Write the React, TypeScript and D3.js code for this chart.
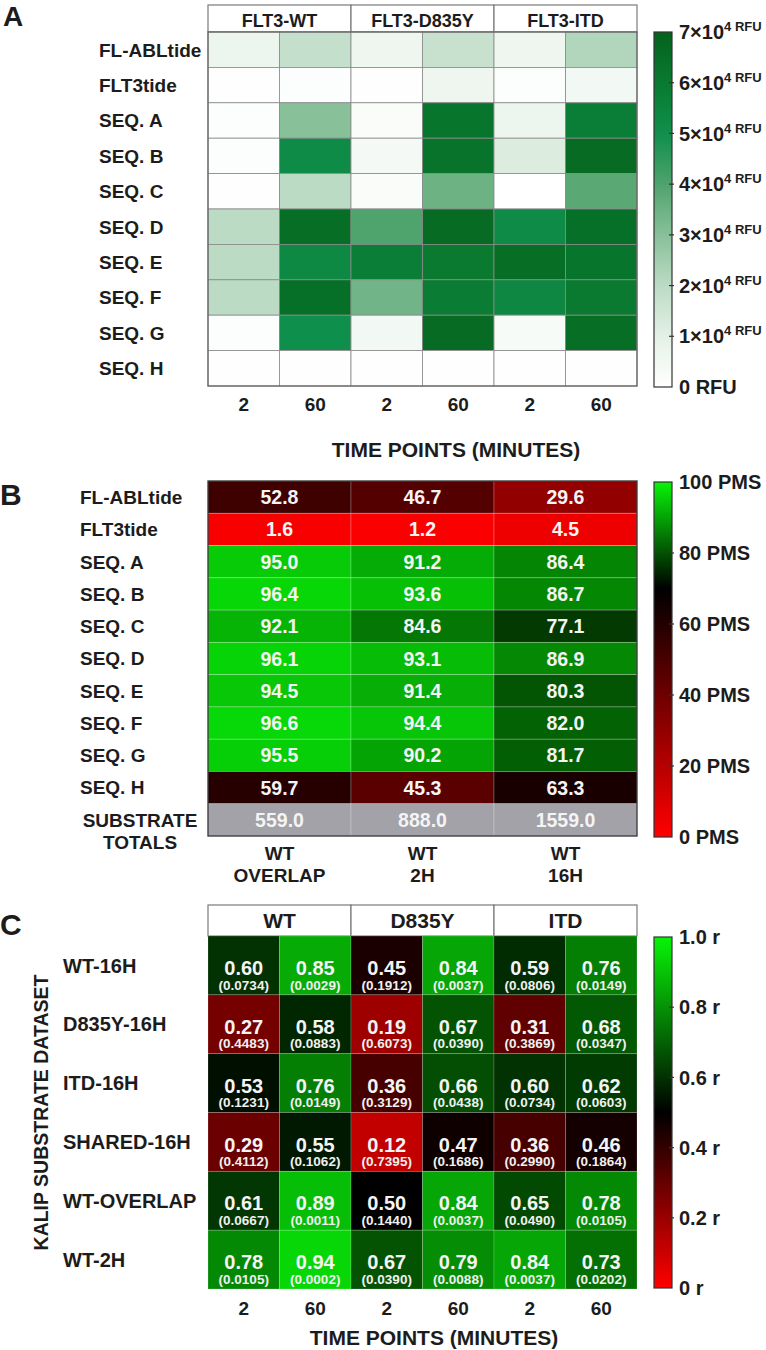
import React from "react"
import * as d3 from "d3"

const FONT = "'Liberation Sans', Arial, Helvetica, sans-serif"
const TEXT = "#1c1c1c"

// ---- panel A : raw fluorescence ----
const substrates = [
	"FL-ABLtide",
	"FLT3tide",
	"SEQ. A",
	"SEQ. B",
	"SEQ. C",
	"SEQ. D",
	"SEQ. E",
	"SEQ. F",
	"SEQ. G",
	"SEQ. H",
]
const kinasesA = ["FLT3-WT", "FLT3-D835Y", "FLT3-ITD"]
const timePoints = ["2", "60"]
// RFU, columns: WT 2, WT 60, D835Y 2, D835Y 60, ITD 2, ITD 60
const rfuValues = [
	[7000, 18000, 6000, 17000, 6000, 22000],
	[500, 1000, 500, 6000, 1000, 5000],
	[1000, 30000, 2000, 62000, 7000, 58000],
	[1000, 52000, 4000, 63000, 12000, 66000],
	[500, 20000, 2000, 35000, 0, 38000],
	[20000, 65000, 40000, 66000, 52000, 64000],
	[20000, 53000, 58000, 60000, 65000, 62000],
	[20000, 64000, 34000, 59000, 54000, 60000],
	[1000, 50000, 5000, 66000, 3000, 65000],
	[500, 500, 500, 500, 500, 500],
]
const rfuTicks = [0, 10000, 20000, 30000, 40000, 50000, 60000, 70000]
const rfuColors = ["#ffffff", "#e4f0e6", "#bcdbc4", "#88c09a", "#4fa36c", "#0f8f4c", "#097a30", "#05611c"]

// ---- panel B : PMS ----
const datasetsB = ["WT|OVERLAP", "WT|2H", "WT|16H"]
const pmsValues = [
	[52.8, 46.7, 29.6],
	[1.6, 1.2, 4.5],
	[95.0, 91.2, 86.4],
	[96.4, 93.6, 86.7],
	[92.1, 84.6, 77.1],
	[96.1, 93.1, 86.9],
	[94.5, 91.4, 80.3],
	[96.6, 94.4, 82.0],
	[95.5, 90.2, 81.7],
	[59.7, 45.3, 63.3],
]
const substrateTotals = [559.0, 888.0, 1559.0]
const pmsTicks = [0, 20, 40, 60, 80, 100]

// ---- panel C : correlation ----
const kinasesC = ["WT", "D835Y", "ITD"]
const datasetsC = ["WT-16H", "D835Y-16H", "ITD-16H", "SHARED-16H", "WT-OVERLAP", "WT-2H"]
const rValues = [
	[0.6, 0.85, 0.45, 0.84, 0.59, 0.76],
	[0.27, 0.58, 0.19, 0.67, 0.31, 0.68],
	[0.53, 0.76, 0.36, 0.66, 0.6, 0.62],
	[0.29, 0.55, 0.12, 0.47, 0.36, 0.46],
	[0.61, 0.89, 0.5, 0.84, 0.65, 0.78],
	[0.78, 0.94, 0.67, 0.79, 0.84, 0.73],
]
const pValues = [
	["0.0734", "0.0029", "0.1912", "0.0037", "0.0806", "0.0149"],
	["0.4483", "0.0883", "0.6073", "0.0390", "0.3869", "0.0347"],
	["0.1231", "0.0149", "0.3129", "0.0438", "0.0734", "0.0603"],
	["0.4112", "0.1062", "0.7395", "0.1686", "0.2990", "0.1864"],
	["0.0667", "0.0011", "0.1440", "0.0037", "0.0490", "0.0105"],
	["0.0105", "0.0002", "0.0390", "0.0088", "0.0037", "0.0202"],
]
const rTicks = [0, 0.2, 0.4, 0.6, 0.8, 1.0]

// layout
const GX0 = 208
const GX1 = 637
const CB_X = 654
const CB_W = 18

const colA = d3.scaleBand<number>().domain(d3.range(6)).range([GX0, GX1])
const kinA = d3.scaleBand<number>().domain(d3.range(3)).range([GX0, GX1])
const rowA = d3.scaleBand<number>().domain(d3.range(substrates.length)).range([32, 386])
const rowB = d3.scaleBand<number>().domain(d3.range(substrates.length + 1)).range([481, 836])
const rowC = d3.scaleBand<number>().domain(d3.range(datasetsC.length)).range([936, 1289])

const colorA = d3.scaleLinear<string>().domain(rfuTicks).range(rfuColors).interpolate(d3.interpolateRgb)
const colorB = d3.scaleLinear<string>().domain([0, 70, 100]).range(["#ff0000", "#000000", "#08f408"])
const colorC = d3.scaleLinear<string>().domain([0, 0.5, 1]).range(["#ff0000", "#000000", "#08f408"])

const cbA = d3.scaleLinear().domain([0, 70000]).range([387, 32])
const cbB = d3.scaleLinear().domain([0, 100]).range([837, 482])
const cbC = d3.scaleLinear().domain([0, 1]).range([1288, 937])

function ColorBar({ id, scale, color, ticks, label }) {
	const [d0, d1] = scale.domain()
	const [y0, y1] = scale.range()
	const stops = d3.range(0, 1.0001, 0.05)
	return (
		<g>
			<defs>
				<linearGradient id={id} x1="0" y1="1" x2="0" y2="0">
					{stops.map((t) => (
						<stop key={t} offset={t} stopColor={color(d0 + t * (d1 - d0))} />
					))}
				</linearGradient>
			</defs>
			<rect x={CB_X} y={y1} width={CB_W} height={y0 - y1} fill={`url(#${id})`} stroke="#333" strokeWidth={1.2} />
			{ticks.map((v, i) => (
				<g key={v}>
					{i > 0 && i < ticks.length - 1 && (
						<line x1={CB_X + CB_W - 3} x2={CB_X + CB_W + 2} y1={scale(v)} y2={scale(v)} stroke="#333" strokeWidth={1.2} />
					)}
					<text x={CB_X + 25} y={scale(v)} dy="0.36em" fontSize={20} fontWeight="bold" fill={TEXT}>
						{label(v)}
					</text>
				</g>
			))}
		</g>
	)
}

function rfuLabel(v) {
	if (v === 0) return "0 RFU"
	return (
		<>
			{`${v / 10000}×10`}
			<tspan dy={-8} fontSize={13}>4 RFU</tspan>
		</>
	)
}

function PanelA() {
	return (
		<g>
			<text x={3} y={26} fontSize={28} fontWeight="bold" fill={TEXT}>A</text>
			{kinasesA.map((k, i) => (
				<g key={k}>
					<rect x={kinA(i)} y={5} width={kinA.bandwidth()} height={27} fill="#fff" stroke="#7a7a7a" strokeWidth={1.2} />
					<text x={kinA(i) + kinA.bandwidth() / 2} y={27} textAnchor="middle" fontSize={18} fontWeight="bold" fill={TEXT}>
						{k}
					</text>
				</g>
			))}
			{rfuValues.map((row, r) =>
				row.map((v, c) => (
					<rect
						key={`${r}-${c}`}
						x={colA(c)}
						y={rowA(r)}
						width={colA.bandwidth()}
						height={rowA.bandwidth()}
						fill={colorA(v)}
						stroke="#8a8a8a"
						strokeWidth={0.8}
					/>
				)),
			)}
			<rect x={GX0} y={32} width={GX1 - GX0} height={386 - 32} fill="none" stroke="#666" strokeWidth={1.3} />
			{substrates.map((s, r) => (
				<text key={s} x={99} y={rowA(r) + rowA.bandwidth() / 2} dy="0.36em" fontSize={19} fontWeight="bold" fill={TEXT}>
					{s}
				</text>
			))}
			{d3.range(6).map((c) => (
				<text key={c} x={colA(c) + colA.bandwidth() / 2} y={411} textAnchor="middle" fontSize={19} fontWeight="bold" fill={TEXT}>
					{timePoints[c % 2]}
				</text>
			))}
			<text x={456} y={457} textAnchor="middle" fontSize={21} fontWeight="bold" fill={TEXT}>
				TIME POINTS (MINUTES)
			</text>
			<ColorBar id="cbA" scale={cbA} color={colorA} ticks={rfuTicks} label={rfuLabel} />
		</g>
	)
}

function PanelB() {
	const rows = [...pmsValues, substrateTotals]
	return (
		<g>
			<text x={0} y={505} fontSize={30} fontWeight="bold" fill={TEXT}>B</text>
			{rows.map((row, r) =>
				row.map((v, c) => {
					const isTotal = r === pmsValues.length
					return (
						<g key={`${r}-${c}`}>
							<rect
								x={kinA(c)}
								y={rowB(r)}
								width={kinA.bandwidth()}
								height={rowB.bandwidth()}
								fill={isTotal ? "#a2a2a8" : colorB(v)}
								stroke="rgba(255,255,255,0.28)"
								strokeWidth={0.8}
							/>
							<text
								x={kinA(c) + kinA.bandwidth() / 2}
								y={rowB(r) + rowB.bandwidth() / 2}
								dy="0.36em"
								textAnchor="middle"
								fontSize={19.5}
								fontWeight="bold"
								fill="#f4f4f4"
							>
								{d3.format(".1f")(v)}
							</text>
						</g>
					)
				}),
			)}
			<rect x={GX0} y={481} width={GX1 - GX0} height={836 - 481} fill="none" stroke="#333" strokeWidth={1.3} />
			{substrates.map((s, r) => (
				<text key={s} x={80} y={rowB(r) + rowB.bandwidth() / 2} dy="0.36em" fontSize={19} fontWeight="bold" fill={TEXT}>
					{s}
				</text>
			))}
			<text x={140} y={rowB(10) + rowB.bandwidth() / 2} dy="0.36em" textAnchor="middle" fontSize={19} fontWeight="bold" fill={TEXT}>
				SUBSTRATE
			</text>
			<text x={140} y={849} textAnchor="middle" fontSize={19} fontWeight="bold" fill={TEXT}>
				TOTALS
			</text>
			{datasetsB.map((d, c) => {
				const [l1, l2] = d.split("|")
				const cx = kinA(c) + kinA.bandwidth() / 2
				return (
					<g key={d}>
						<text x={cx} y={860} textAnchor="middle" fontSize={19} fontWeight="bold" fill={TEXT}>{l1}</text>
						<text x={cx} y={882} textAnchor="middle" fontSize={19} fontWeight="bold" fill={TEXT}>{l2}</text>
					</g>
				)
			})}
			<ColorBar id="cbB" scale={cbB} color={colorB} ticks={pmsTicks} label={(v) => `${v} PMS`} />
		</g>
	)
}

function PanelC() {
	return (
		<g>
			<text x={0} y={935} fontSize={30} fontWeight="bold" fill={TEXT}>C</text>
			{kinasesC.map((k, i) => (
				<g key={k}>
					<rect x={kinA(i)} y={905} width={kinA.bandwidth()} height={31} fill="#fff" stroke="#7a7a7a" strokeWidth={1.2} />
					<text x={kinA(i) + kinA.bandwidth() / 2} y={928} textAnchor="middle" fontSize={21} fontWeight="bold" fill={TEXT}>
						{k}
					</text>
				</g>
			))}
			{rValues.map((row, r) =>
				row.map((v, c) => {
					const cx = colA(c) + colA.bandwidth() / 2
					return (
						<g key={`${r}-${c}`}>
							<rect
								x={colA(c)}
								y={rowC(r)}
								width={colA.bandwidth()}
								height={rowC.bandwidth()}
								fill={colorC(v)}
								stroke="rgba(255,255,255,0.22)"
								strokeWidth={0.8}
							/>
							<text x={cx} y={rowC(r) + 39} textAnchor="middle" fontSize={20} fontWeight="bold" fill="#f4f4f4">
								{d3.format(".2f")(v)}
							</text>
							<text x={cx} y={rowC(r) + 53.5} textAnchor="middle" fontSize={13.5} fontWeight="bold" fill="#f0f0f0">
								({pValues[r][c]})
							</text>
						</g>
					)
				}),
			)}
			{datasetsC.map((s, r) => (
				<text key={s} x={63} y={rowC(r) + rowC.bandwidth() / 2} dy="0.36em" fontSize={20} fontWeight="bold" fill={TEXT}>
					{s}
				</text>
			))}
			<text
				transform={`translate(48,${(936 + 1289) / 2}) rotate(-90)`}
				textAnchor="middle"
				fontSize={19.5}
				fontWeight="bold"
				fill={TEXT}
			>
				KALIP SUBSTRATE DATASET
			</text>
			{d3.range(6).map((c) => (
				<text key={c} x={colA(c) + colA.bandwidth() / 2} y={1315} textAnchor="middle" fontSize={19} fontWeight="bold" fill={TEXT}>
					{timePoints[c % 2]}
				</text>
			))}
			<text x={434} y={1345} textAnchor="middle" fontSize={21} fontWeight="bold" fill={TEXT}>
				TIME POINTS (MINUTES)
			</text>
			<ColorBar id="cbC" scale={cbC} color={colorC} ticks={rTicks} label={(v) => (v === 0 ? "0 r" : `${d3.format(".1f")(v)} r`)} />
		</g>
	)
}

export default function App() {
	return (
		<svg
			width={766}
			height={1350}
			style={{ position: "absolute", left: 0, top: 0, background: "#fff", fontFamily: FONT }}
		>
			<rect width={766} height={1350} fill="#fff" />
			<PanelA />
			<PanelB />
			<PanelC />
		</svg>
	)
}
